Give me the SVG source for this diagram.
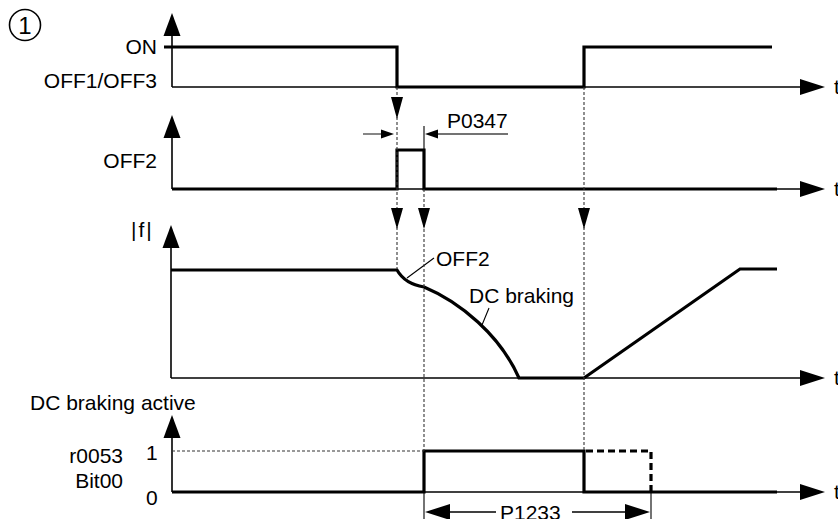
<svg xmlns="http://www.w3.org/2000/svg" width="838" height="519" viewBox="0 0 838 519">
<style>
text{font-family:"Liberation Sans",Arial,sans-serif;font-size:21px;fill:#000}
.e{text-anchor:end}
.ax{stroke:#000;stroke-width:1.6;fill:none}
.sig{stroke:#000;stroke-width:3.2;fill:none;stroke-linejoin:miter}
.sigd{stroke:#000;stroke-width:3.2;fill:none;stroke-dasharray:7 4}
.ah{fill:#000;stroke:none}
.dash{stroke:#333;stroke-width:1.1;fill:none;stroke-dasharray:3 2}
.dim{stroke:#444;stroke-width:1.3;fill:none}
.lead{stroke:#000;stroke-width:1.1;fill:none}
</style>
<rect width="838" height="519" fill="#fff"/>
<g id="marker-1">
<circle cx="25" cy="25" r="15.5" fill="none" stroke="#000" stroke-width="1.6"/>
<text x="25" y="33.5" text-anchor="middle" style="font-size:24px">1</text>
</g>
<g id="trace-on-off">
<line class="ax" x1="172" y1="87" x2="172" y2="34"/>
<polygon class="ah" points="172,13 163.5,36 180.5,36"/>
<line class="ax" x1="172" y1="87" x2="802" y2="87"/>
<polygon class="ah" points="825,87 800,79 800,95"/>
<polyline class="sig" points="164,47 397,47 397,87 584,87 584,47 772,47"/>
<text class="e" x="157" y="54">ON</text>
<text class="e" x="157" y="87.5">OFF1/OFF3</text>
<text x="834" y="94">t</text>
</g>
<g id="trace-off2">
<line class="ax" x1="172" y1="189" x2="172" y2="136"/>
<polygon class="ah" points="172,115 163.5,138 180.5,138"/>
<line class="ax" x1="172" y1="189" x2="802" y2="189"/>
<polygon class="ah" points="825,189 800,181 800,197"/>
<polyline class="sig" points="172,189 397,189 397,150 424,150 424,189 777,189"/>
<text class="e" x="157" y="168">OFF2</text>
<text x="834" y="196">t</text>
</g>
<g id="dim-p0347">
<line class="dim" x1="363" y1="134" x2="384" y2="134"/>
<polygon class="ah" points="394,134 381,129.5 381,138.5"/>
<line class="dim" x1="436" y1="134" x2="508" y2="134"/>
<polygon class="ah" points="425,134 438,129.5 438,138.5"/>
<line class="lead" x1="424" y1="126" x2="424" y2="150"/>
<text x="447" y="128">P0347</text>
</g>
<g id="trace-freq">
<line class="ax" x1="171" y1="378" x2="171" y2="246"/>
<polygon class="ah" points="171,225 162.5,248 179.5,248"/>
<line class="ax" x1="171" y1="378" x2="802" y2="378"/>
<polygon class="ah" points="825,378 800,370 800,386"/>
<path class="sig" d="M171,270 L397,270 Q405,284 424,287 C460,302 500,335 519,378 L584,378 L740,269 L777,269"/>
<text x="131" y="237" style="letter-spacing:2px">|f|</text>
<line class="lead" x1="407" y1="278" x2="434" y2="258"/>
<text x="436" y="266">OFF2</text>
<line class="lead" x1="482" y1="325" x2="489" y2="308"/>
<text x="469" y="303">DC braking</text>
<text x="834" y="385">t</text>
</g>
<g id="trace-dc-active">
<line class="ax" x1="172" y1="492" x2="172" y2="436"/>
<polygon class="ah" points="172,415 163.5,438 180.5,438"/>
<line class="ax" x1="172" y1="492" x2="802" y2="492"/>
<polygon class="ah" points="825,492 800,484 800,500"/>
<polyline class="sig" points="172,492 424,492 424,451 584,451 584,492 777,492"/>
<polyline class="sigd" points="586,451 651,451 651,492"/>
<text x="30" y="410">DC braking active</text>
<text class="e" x="123" y="463">r0053</text>
<text class="e" x="123" y="488">Bit00</text>
<text x="146" y="460">1</text>
<text x="146" y="505">0</text>
<text x="834" y="499">t</text>
</g>
<g id="dim-p1233">
<line class="lead" x1="424" y1="492" x2="424" y2="519"/>
<line class="lead" x1="651" y1="492" x2="651" y2="519"/>
<line class="ax" x1="448" y1="512" x2="496" y2="512"/>
<line class="ax" x1="572" y1="512" x2="627" y2="512"/>
<polygon class="ah" points="425,512 450,504 450,520"/>
<polygon class="ah" points="650,512 625,504 625,520"/>
<text x="500" y="520">P1233</text>
</g>
<g id="connectors">
<line class="dash" x1="397" y1="87" x2="397" y2="269"/>
<line class="dash" x1="424" y1="189" x2="424" y2="451"/>
<line class="dash" x1="584" y1="87" x2="584" y2="451"/>
<line class="dash" x1="172" y1="451" x2="424" y2="451"/>
<polygon class="ah" points="397,119 391,97 403,97"/>
<polygon class="ah" points="397,229 391,208 403,208"/>
<polygon class="ah" points="424,229 418,208 430,208"/>
<polygon class="ah" points="584,229 578,208 590,208"/>
</g>
</svg>
